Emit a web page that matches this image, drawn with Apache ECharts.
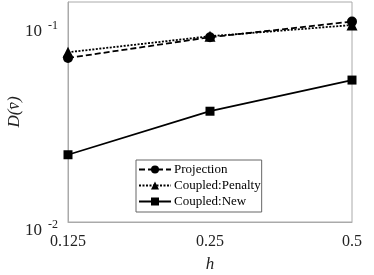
<!DOCTYPE html>
<html><head><meta charset="utf-8">
<script src="https://cdn.jsdelivr.net/npm/echarts@6/dist/echarts.min.js"></script>
<style>html,body{margin:0;padding:0;background:#fff}#c{width:374px;height:275px}</style>
</head><body><div id="c"></div>
<script>
var hValues = [0.125, 0.25, 0.5];
var xTickLabels = ['0.125', '0.25', '0.5'];
var yTickLabels = ['10^-2', '10^-1'];
var projection = [0.0669, 0.0851, 0.102];
var coupledPenalty = [0.0715, 0.0861, 0.098];
var coupledNew = [0.0218, 0.0361, 0.0518];
var seriesNames = ['Projection', 'Coupled:Penalty', 'Coupled:New'];

function pairs(vals){ return hValues.map(function(h,i){ return [h, vals[i]]; }); }
var font = 'Liberation Serif';
var chart = echarts.init(document.getElementById('c'));
chart.setOption({
  animation: false,
  grid: { left: 68, right: 22, top: 2, bottom: 53, show: true, borderColor: '#aaaaaa', borderWidth: 1,
          containLabel: false, outerBoundsMode: 'none' },
  legend: {
    orient: 'vertical', left: 136, top: 160, itemGap: 3, itemWidth: 32, itemHeight: 10,
    backgroundColor: '#fff', borderColor: '#666', borderWidth: 1, padding: [3, 1, 4, 2],
    textStyle: { fontFamily: font, fontSize: 13, color: '#000', padding: [0,0,0,-2] },
    data: seriesNames
  },
  xAxis: {
    type: 'log', logBase: 2, min: 0.125, max: 0.5,
    axisLine: { show: true, lineStyle: { color: '#aaaaaa' } },
    axisTick: { show: false }, splitLine: { show: false },
    axisLabel: { fontFamily: font, fontSize: 16, color: '#222', margin: 12,
      formatter: function(v){ for (var i=0;i<hValues.length;i++){ if (Math.abs(v-hValues[i])<1e-6) return xTickLabels[i]; } return ''; } },
    name: 'h', nameLocation: 'middle', nameGap: 34, nameMoveOverlap: false,
    nameTextStyle: { fontFamily: font, fontSize: 17, fontStyle: 'italic', color: '#222' }
  },
  yAxis: {
    type: 'log', logBase: 10, min: 0.01, max: 0.128,
    axisLine: { show: true, lineStyle: { color: '#aaaaaa' } },
    axisTick: { show: false }, splitLine: { show: false },
    axisLabel: { margin: 10, showMaxLabel: false, padding: [14, 0, 0, 0],
      formatter: function(v){
        var e = Math.log10(v);
        if (Math.abs(e - Math.round(e)) > 1e-6) return '';
        var idx = Math.round(e) + 2;
        var lbl = yTickLabels[idx]; if (!lbl) return '';
        var parts = lbl.split('^');
        return '{b|' + parts[0] + '}{s|' + parts[1] + '}';
      },
      rich: {
        b: { fontFamily: font, fontSize: 17, color: '#222', lineHeight: 20, verticalAlign: 'bottom' },
        s: { fontFamily: font, fontSize: 12, color: '#222', lineHeight: 20, verticalAlign: 'top', padding: [0,0,6,6] }
      }
    },
    name: 'D(v\u0304)', nameLocation: 'middle', nameGap: 45, nameRotate: 90, nameMoveOverlap: false,
    nameTextStyle: { fontFamily: font, fontSize: 17, fontStyle: 'italic', color: '#222' }
  },
  series: [
    { name: seriesNames[0], type: 'line', data: pairs(projection), symbol: 'circle', symbolSize: 10,
      lineStyle: { color: '#000', width: 1.8, type: [6, 3] }, itemStyle: { color: '#000' }, z: 3 },
    { name: seriesNames[1], type: 'line', data: pairs(coupledPenalty), symbol: 'triangle', symbolSize: 11,
      lineStyle: { color: '#000', width: 1.8, type: [2, 1.5] }, itemStyle: { color: '#000' }, z: 2 },
    { name: seriesNames[2], type: 'line', data: pairs(coupledNew), symbol: 'rect', symbolSize: 9,
      lineStyle: { color: '#000', width: 1.8, type: 'solid' }, itemStyle: { color: '#000' }, z: 2 }
  ]
});
</script></body></html>
